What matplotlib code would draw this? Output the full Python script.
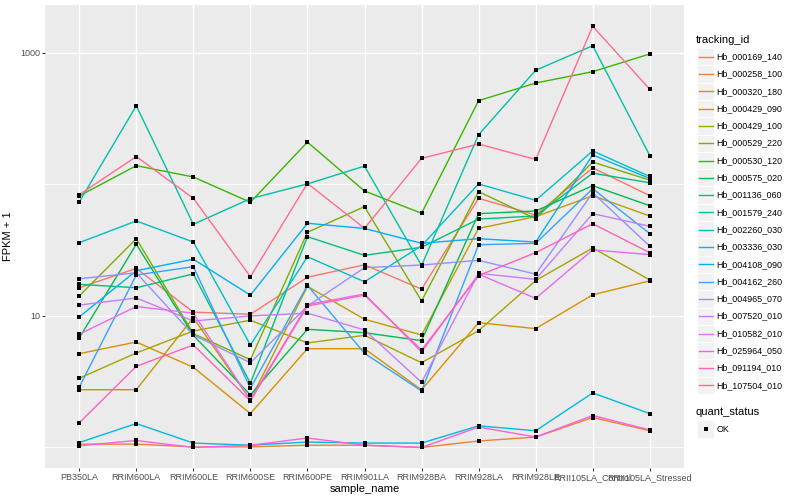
import matplotlib
matplotlib.use("Agg")
import matplotlib.pyplot as plt
from matplotlib.lines import Line2D
from matplotlib.patches import Rectangle
from matplotlib.ticker import FixedLocator, NullFormatter

samples = ["PB350LA", "RRIM600LA", "RRIM600LE", "RRIM600SE", "RRIM600PE",
           "RRIM901LA", "RRIM928BA", "RRIM928LA", "RRIM928LE",
           "RRII105LA_Control", "RRII105LA_Stressed"]

tracking_ids = ["Hb_000169_140", "Hb_000258_100", "Hb_000320_180", "Hb_000429_090",
                "Hb_000429_100", "Hb_000529_220", "Hb_000530_120", "Hb_000575_020",
                "Hb_001136_060", "Hb_001579_240", "Hb_002260_030", "Hb_003336_030",
                "Hb_004108_090", "Hb_004162_260", "Hb_004965_070", "Hb_007520_010",
                "Hb_010582_010", "Hb_025964_050", "Hb_091194_010", "Hb_107504_010"]

colors = ["#F8766D", "#EA8331", "#D89000", "#C09B00", "#A3A500", "#7CAE00", "#39B600",
          "#00BB4E", "#00BF7D", "#00C1A3", "#00BFC4", "#00BAE0", "#00B0F6", "#35A2FF",
          "#9590FF", "#C77CFF", "#E76BF3", "#FA62DB", "#FF62BC", "#FF6C91"]

# FPKM + 1 per sample (same order as samples)
hb_000169_140 = [16.4, 23.0, 10.7, 10.3, 19.7, 24.5, 16.0, 78.5, 58.6, 134, 82.2]
hb_000258_100 = [1.06, 1.06, 1.01, 1.01, 1.04, 1.04, 1.00, 1.12, 1.20, 1.69, 1.34]
hb_000320_180 = [5.17, 6.34, 4.07, 1.81, 5.64, 5.64, 2.74, 8.90, 8.01, 14.5, 18.5]
hb_000429_090 = [2.75, 2.75, 9.71, 2.30, 16.8, 9.44, 7.17, 46.4, 56.9, 82.2, 57.6]
hb_000429_100 = [3.36, 5.23, 7.69, 9.28, 6.23, 7.13, 4.41, 7.73, 18.6, 32.9, 18.8]
hb_000529_220 = [14.2, 38.7, 7.34, 4.65, 43.3, 67.8, 13.0, 88.2, 54.9, 148, 108]
hb_000530_120 = [81.8, 139, 114, 73.2, 210, 89.2, 60.4, 434, 591, 721, 983]
hb_000575_020 = [6.80, 35.1, 7.13, 2.51, 7.92, 7.46, 6.49, 60.0, 62.9, 97.9, 69.0]
hb_001136_060 = [17.4, 16.4, 20.9, 3.08, 40.1, 28.9, 33.3, 54.6, 57.6, 122, 103]
hb_001579_240 = [73.6, 397, 49.8, 78.0, 101, 138, 24.2, 239, 739, 1136, 166]
hb_002260_030 = [36.1, 52.8, 36.5, 6.02, 28.2, 18.2, 34.2, 101, 75.8, 180, 115]
hb_003336_030 = [1.09, 1.52, 1.08, 1.04, 1.10, 1.08, 1.08, 1.46, 1.34, 2.60, 1.81]
hb_004108_090 = [9.83, 22.1, 27.0, 14.4, 50.7, 46.3, 35.7, 38.7, 36.5, 168, 111]
hb_004162_260 = [2.88, 20.5, 23.7, 2.82, 17.1, 5.20, 2.69, 34.8, 35.7, 92.9, 42.3]
hb_004965_070 = [19.2, 21.3, 7.17, 4.41, 11.9, 23.3, 24.4, 26.5, 20.8, 86.6, 33.9]
hb_007520_010 = [12.1, 13.7, 9.16, 10.0, 10.5, 7.83, 3.13, 21.1, 19.0, 60.0, 48.1]
hb_010582_010 = [7.26, 11.8, 10.5, 2.30, 12.2, 14.7, 5.32, 20.8, 13.6, 31.8, 29.3]
hb_025964_050 = [1.03, 1.13, 1.00, 1.04, 1.18, 1.04, 1.00, 1.43, 1.20, 1.75, 1.36]
hb_091194_010 = [1.54, 4.14, 6.02, 2.26, 11.9, 14.4, 5.51, 20.3, 30.3, 50.3, 30.3]
hb_107504_010 = [83.6, 163, 78.5, 19.9, 102, 46.4, 158, 203, 155, 1596, 530]

series = [hb_000169_140, hb_000258_100, hb_000320_180, hb_000429_090, hb_000429_100,
          hb_000529_220, hb_000530_120, hb_000575_020, hb_001136_060, hb_001579_240,
          hb_002260_030, hb_003336_030, hb_004108_090, hb_004162_260, hb_004965_070,
          hb_007520_010, hb_010582_010, hb_025964_050, hb_091194_010, hb_107504_010]

plt.rcParams['font.family'] = ['Liberation Sans', 'DejaVu Sans']

W, H = 800, 500
fig = plt.figure(figsize=(8, 5), dpi=100)
fig.patch.set_facecolor('white')

def fx(px):
    return px / W

def fy(py):
    return 1 - py / H

ax = fig.add_axes([fx(45), fy(468), (684 - 45) / W, (468 - 5) / H])
ax.set_facecolor('#EBEBEB')
for s in ax.spines.values():
    s.set_visible(False)

x = list(range(len(samples)))
for vals, c in zip(series, colors):
    ax.plot(x, vals, color=c, lw=1.0, zorder=3, solid_capstyle='butt')
for vals in series:
    ax.plot(x, vals, linestyle='none', marker='s', markersize=2.5, markeredgewidth=0,
            color='black', zorder=4)

ax.set_yscale('log')
ax.set_ylim(0.698, 2317)
ax.set_xlim(-0.6, len(samples) - 0.4)

ax.yaxis.set_major_locator(FixedLocator([10, 1000]))
ax.yaxis.set_minor_locator(FixedLocator([1, 100]))
ax.yaxis.set_minor_formatter(NullFormatter())
ax.set_yticklabels(["10", "1000"])
ax.set_xticks(x)
ax.set_xticklabels(samples)

ax.grid(True, which='major', color='white', lw=1.0, zorder=0)
ax.grid(True, which='minor', axis='y', color='white', lw=0.6, zorder=0)
ax.set_axisbelow(True)

ax.tick_params(axis='both', which='major', length=2.0, width=0.75, color='#333333',
               labelsize=6.5, labelcolor='#4D4D4D', pad=1.6)
ax.tick_params(axis='y', which='minor', length=0)

ax.set_xlabel("sample_name", fontsize=8.0, color='black', labelpad=1.5)
ax.set_ylabel("FPKM + 1", fontsize=8.0, color='black', labelpad=5)

# legend: tracking_id
fig.text(fx(696), fy(40), "tracking_id", fontsize=8.0, ha='left', va='center')
row0, step = 56.7, 17.3
for i, (name, c) in enumerate(zip(tracking_ids, colors)):
    yc = row0 + i * step
    fig.patches.append(Rectangle((fx(697), fy(yc + step / 2)), 17 / W, step / H,
                                 transform=fig.transFigure, facecolor='#F2F2F2',
                                 edgecolor='white', lw=0.6))
    fig.lines.append(Line2D([fx(698.5), fx(712.5)], [fy(yc), fy(yc)],
                            transform=fig.transFigure, color=c, lw=1.0))
    fig.text(fx(716.5), fy(yc), name, fontsize=6.4, ha='left', va='center')

# legend: quant_status
fig.text(fx(696), fy(412), "quant_status", fontsize=8.0, ha='left', va='center')
fig.patches.append(Rectangle((fx(697), fy(429 + step / 2)), 17 / W, step / H,
                             transform=fig.transFigure, facecolor='#F2F2F2',
                             edgecolor='white', lw=0.6))
fig.lines.append(Line2D([fx(705.5)], [fy(429)], transform=fig.transFigure,
                        marker='s', markersize=2.5, markeredgewidth=0, color='black',
                        linestyle='none'))
fig.text(fx(716.5), fy(429), "OK", fontsize=6.4, ha='left', va='center')

fig.savefig("out.png", dpi=100)
